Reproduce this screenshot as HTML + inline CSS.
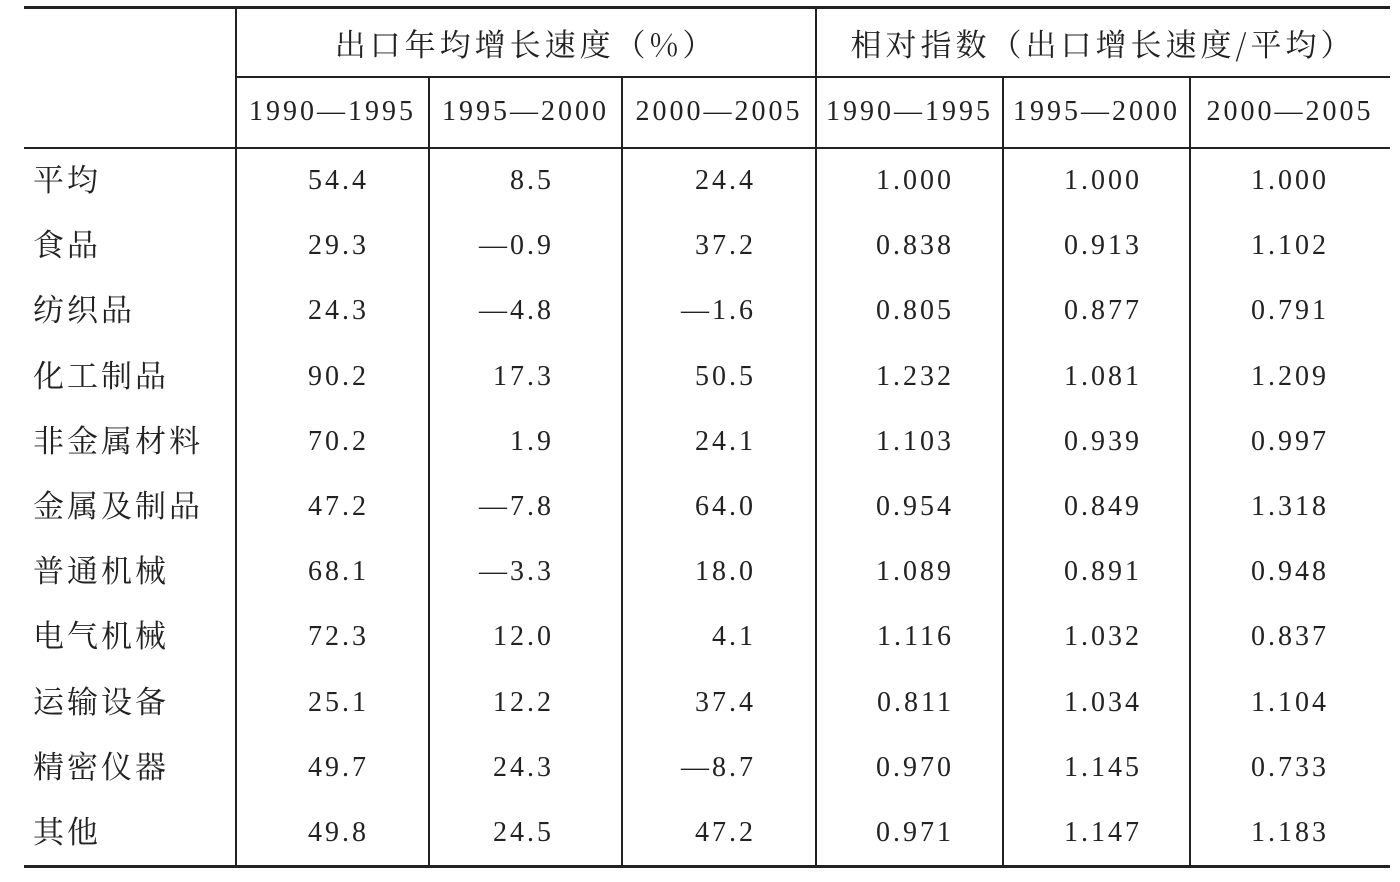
<!DOCTYPE html>
<html><head><meta charset="utf-8"><style>
body{margin:0;width:1400px;height:882px;background:#fff;position:relative;overflow:hidden;font-family:"Liberation Serif","Noto Serif CJK SC",serif;color:#222}
.h{position:absolute;background:#222}
.t{position:absolute;white-space:nowrap;line-height:1}
.n{font-size:28px;letter-spacing:3px;text-align:right;width:200px}
.l{font-size:31px;letter-spacing:3px;left:33px}
.c{font-size:28px;letter-spacing:3px;text-align:center}
.hd{font-size:31px;letter-spacing:4px;text-align:center;font-family:"Noto Serif CJK SC",serif}
</style></head><body>
<div class="h" style="left:24px;top:6px;width:1366px;height:3px"></div>
<div class="h" style="left:236px;top:76px;width:1154px;height:1.5px"></div>
<div class="h" style="left:24px;top:147px;width:1366px;height:1.5px"></div>
<div class="h" style="left:24px;top:865px;width:1366px;height:3px"></div>
<div class="h" style="left:235px;top:9px;width:1.5px;height:856px"></div>
<div class="h" style="left:815px;top:9px;width:1.5px;height:856px"></div>
<div class="h" style="left:428px;top:77px;width:1.5px;height:788px"></div>
<div class="h" style="left:621px;top:77px;width:1.5px;height:788px"></div>
<div class="h" style="left:1002px;top:77px;width:1.5px;height:788px"></div>
<div class="h" style="left:1189px;top:77px;width:1.5px;height:788px"></div>
<div class="t hd" style="left:236px;width:580px;top:27px">出口年均增长速度（%）</div>
<div class="t hd" style="left:816px;width:574px;top:27px">相对指数（出口增长速度/平均）</div>
<div class="t c" style="left:236px;width:193px;top:98px">1990—1995</div>
<div class="t c" style="left:429px;width:193px;top:98px">1995—2000</div>
<div class="t c" style="left:622px;width:194px;top:98px">2000—2005</div>
<div class="t c" style="left:816px;width:187px;top:98px">1990—1995</div>
<div class="t c" style="left:1003px;width:187px;top:98px">1995—2000</div>
<div class="t c" style="left:1190px;width:200px;top:98px">2000—2005</div>
<div id="rows"></div>
<script>
var d=[["平均","54.4","8.5","24.4","1.000","1.000","1.000"],["食品","29.3","—0.9","37.2","0.838","0.913","1.102"],["纺织品","24.3","—4.8","—1.6","0.805","0.877","0.791"],["化工制品","90.2","17.3","50.5","1.232","1.081","1.209"],["非金属材料","70.2","1.9","24.1","1.103","0.939","0.997"],["金属及制品","47.2","—7.8","64.0","0.954","0.849","1.318"],["普通机械","68.1","—3.3","18.0","1.089","0.891","0.948"],["电气机械","72.3","12.0","4.1","1.116","1.032","0.837"],["运输设备","25.1","12.2","37.4","0.811","1.034","1.104"],["精密仪器","49.7","24.3","—8.7","0.970","1.145","0.733"],["其他","49.8","24.5","47.2","0.971","1.147","1.183"]];
var R=[369,554,756,954,1142,1329],h="";
d.forEach(function(r,i){var y=181+i*65.2;
h+='<div class="t l" style="top:'+(y-16)+'px">'+r[0]+'</div>';
for(var j=1;j<7;j++)h+='<div class="t n" style="left:'+(R[j-1]-200)+'px;top:'+(y-14)+'px">'+r[j]+'</div>';});
document.getElementById('rows').innerHTML=h;
</script>
</body></html>
